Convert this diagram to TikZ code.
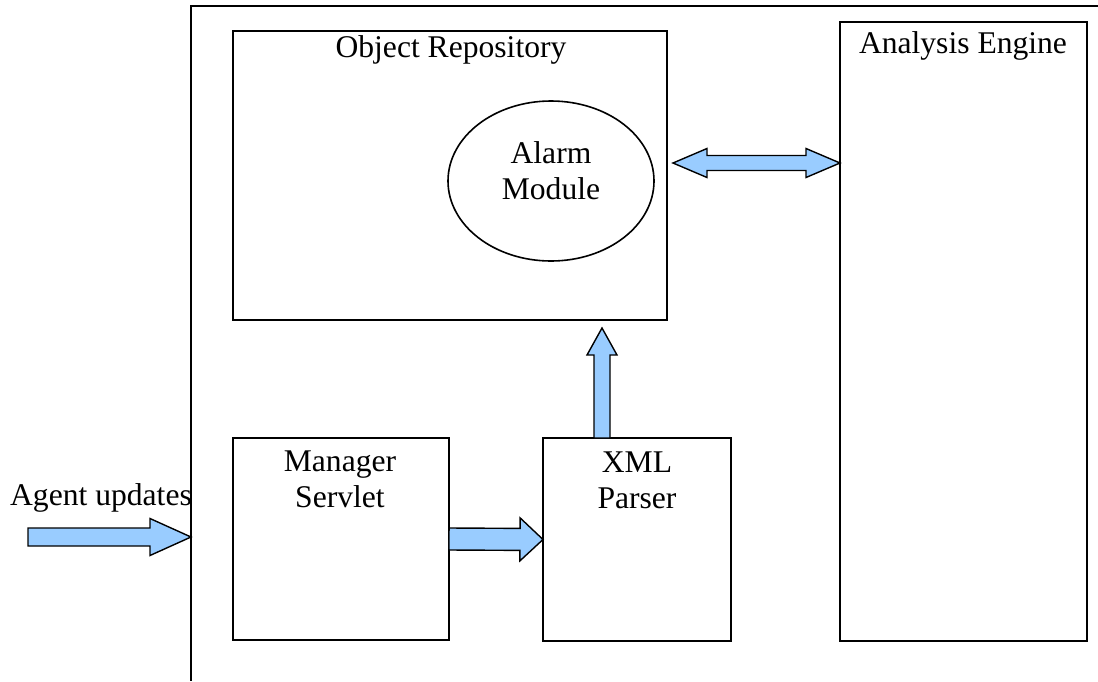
\documentclass[tikz,border=0pt]{standalone}
\usepackage{fontspec}
\setmainfont{Liberation Serif}
\usetikzlibrary{calc,shapes.geometric}
\definecolor{arrowblue}{HTML}{99CCFF}

% block arrow: from, to, shaft half width, head half width, head length
\newcommand{\fatarrow}[5]{%
  \coordinate (fa-h) at ($(#2)!#5!(#1)$);
  \filldraw[fat] ($(#1)!#3!90:(#2)$) -- ($(fa-h)!#3!90:(#2)$)
    -- ($(fa-h)!#4!90:(#2)$) -- (#2) -- ($(fa-h)!#4!-90:(#2)$)
    -- ($(fa-h)!#3!-90:(#2)$) -- ($(#1)!#3!-90:(#2)$) -- cycle;
}
% block arrow with two heads
\newcommand{\fatdblarrow}[5]{%
  \coordinate (fa-a) at ($(#1)!#5!(#2)$);
  \coordinate (fa-b) at ($(#2)!#5!(#1)$);
  \filldraw[fat] (#1) -- ($(fa-a)!#4!90:(#2)$) -- ($(fa-a)!#3!90:(#2)$)
    -- ($(fa-b)!#3!90:(#2)$) -- ($(fa-b)!#4!90:(#2)$) -- (#2)
    -- ($(fa-b)!#4!-90:(#2)$) -- ($(fa-b)!#3!-90:(#2)$)
    -- ($(fa-a)!#3!-90:(#2)$) -- ($(fa-a)!#4!-90:(#2)$) -- cycle;
}

\begin{document}
\begin{tikzpicture}[x=.5pt,y=-.5pt,
  font=\fontsize{15.8}{18}\selectfont,
  blockbox/.style={draw, line width=1pt, inner sep=0pt, outer sep=0pt, anchor=north west},
  txt/.style={align=center, anchor=base, inner sep=0pt},
  fat/.style={draw, fill=arrowblue, line width=.7pt, line join=miter}]
\useasboundingbox (0,0) rectangle (1098,681);

% outer frame
\draw[line width=1pt] (1098,6) -- (191,6) -- (191,681);

% boxes
\node[blockbox, minimum width=217pt, minimum height=144.5pt] (repo) at (233,31) {};
\node[blockbox, minimum width=123.5pt, minimum height=309.5pt] (engine) at (840,22) {};
\node[blockbox, minimum width=108pt, minimum height=101pt] (mgr) at (233,438) {};
\node[blockbox, minimum width=94pt, minimum height=101.5pt] (xml) at (543,438) {};
\node[draw, ellipse, line width=.8pt, inner sep=0pt, minimum width=103pt, minimum height=80pt] (alarm) at (551,181) {};

% texts (base = last line)
\node[txt] (repotxt) at (451,57) {Object Repository};
\node[txt] (enginetxt) at (963,53) {Analysis Engine};
\node[txt] (alarmtxt) at (551,199) {Alarm\\Module};
\node[txt] (mgrtxt) at (340,507) {Manager\\Servlet};
\node[txt] (xmltxt) at (637,508) {XML\\Parser};
\node[txt] (agenttxt) at (101,505) {Agent updates};

% arrows
\coordinate (agentfrom) at (28,537);
\coordinate (agentto) at (191,537);
\fatarrow{agentfrom}{agentto}{4.5pt}{9.25pt}{20.5pt}

\fatarrow{mgr.east}{xml.west}{5.5pt}{10.75pt}{11.5pt}

\coordinate (upx) at (602,0);
\coordinate (upfrom) at (xml.north -| upx);
\coordinate (upto) at ($(repo.south -| upx)+(0,8)$);
\fatarrow{upfrom}{upto}{4pt}{7.5pt}{13.5pt}

\coordinate (dbly) at (0,163);
\coordinate (dblfrom) at ($(repo.east |- dbly)+(6,0)$);
\coordinate (dblto) at (engine.west |- dbly);
\fatdblarrow{dblfrom}{dblto}{3.75pt}{7.25pt}{17pt}
\end{tikzpicture}
\end{document}
